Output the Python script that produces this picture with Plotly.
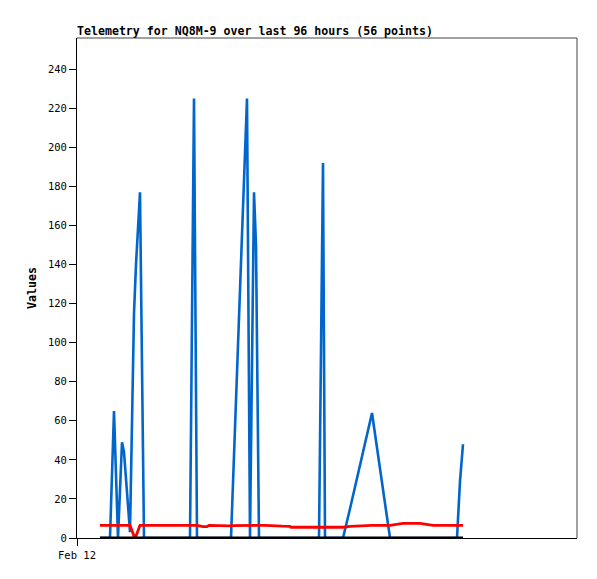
import pandas as pd
import plotly.graph_objects as go

# hours after Feb 12 00:00 for each of the 56 samples
hours = [5.75, 7.25, 8.25, 9.25, 10.25, 11.25, 11.75, 13.25, 14.25, 14.75,
         15.75, 16.75, 18.25, 20.75, 24.5, 26.5, 28.25, 29.25, 30.0, 31.5,
         32.5, 33.0, 35.75, 38.25, 38.5, 41.0, 42.0, 42.5, 43.25, 44.25,
         44.75, 45.5, 47.0, 49.0, 51.25, 53.25, 53.5, 57.0, 60.5, 61.5,
         62.0, 64.0, 66.5, 68.25, 72.0, 73.75, 78.25, 80.0, 81.5, 83.25,
         85.75, 89.0, 92.0, 95.0, 95.75, 96.5]

series_blue = [0, 0, 0, 65, 0, 49, 44, 3, 115, 140,
               177, 0, 0, 0, 0, 0, 0, 225, 0, 0,
               0, 0, 0, 0, 0, 141, 197, 225, 0, 177,
               150, 0, 0, 0, 0, 0, 0, 0, 0, 192,
               0, 0, 0, 15, 49, 64, 0, 0, 0, 0,
               0, 0, 0, 0, 29, 48]

series_red = [6.5, 6.5, 6.5, 6.5, 6.5, 6.5, 6.5, 6.5, 1, 1,
              6.5, 6.5, 6.5, 6.5, 6.5, 6.5, 6.5, 6.5, 6.5, 5.8,
              5.8, 6.5, 6.2, 6.2, 6.3, 6.5, 6.5, 6.5, 6.5, 6.5,
              6.5, 6.5, 6.5, 6.2, 6.1, 6.0, 5.5, 5.5, 5.5, 5.5,
              5.5, 5.5, 5.5, 6.0, 6.5, 6.5, 6.5, 7.0, 7.5, 7.5,
              7.5, 6.5, 6.5, 6.5, 6.5, 6.5]

series_black = [0] * 56

title_text = "Telemetry for NQ8M-9 over last 96 hours (56 points)"
y_title = "Values"
x_tick_label = "Feb 12"

origin = pd.Timestamp("2024-02-12 00:00")
times = [origin + pd.Timedelta(hours=h) for h in hours]
x_end = origin + pd.Timedelta(hours=125)

font_family = "DejaVu Sans Mono, Liberation Mono, monospace"

fig = go.Figure()
fig.add_trace(go.Scatter(x=times, y=series_blue, mode="lines",
                         line=dict(color="#0066CC", width=2.6), showlegend=False))
fig.add_trace(go.Scatter(x=times, y=series_red, mode="lines",
                         line=dict(color="#FF0000", width=2.8), showlegend=False))
fig.add_trace(go.Scatter(x=times, y=series_black, mode="lines",
                         line=dict(color="#000000", width=2.8), showlegend=False))

fig.update_layout(
    width=597, height=579, autosize=False,
    margin=dict(l=77, r=20, t=38, b=41),
    paper_bgcolor="white", plot_bgcolor="white",
    font=dict(family=font_family, size=10, color="black"),
    title=dict(text="<b>" + title_text + "</b>", xref="paper", x=0, xanchor="left",
               yref="container", y=1 - 31 / 579, yanchor="middle",
               font=dict(family=font_family, size=11.6, color="black")),
    xaxis=dict(type="date", range=[origin, x_end], tickvals=[origin],
               ticktext=[x_tick_label], showgrid=False, zeroline=False,
               showline=True, linecolor="black", linewidth=1, automargin=False,
               ticks="outside", ticklen=7, tickcolor="black",
               tickfont=dict(family=font_family, size=10.5)),
    yaxis=dict(range=[0, 256], dtick=20, tick0=0, showgrid=False, zeroline=False,
               showline=True, linecolor="black", linewidth=1, automargin=False,
               ticks="outside", ticklen=7, tickcolor="black",
               tickfont=dict(family=font_family, size=10.5),
               title=dict(text="<b>" + y_title + "</b>", standoff=8,
                          font=dict(family=font_family, size=11.6))),
    shapes=[
        dict(type="line", xref="paper", yref="paper", x0=0, x1=1, y0=1, y1=1,
             line=dict(color="#444444", width=1)),
        dict(type="line", xref="paper", yref="paper", x0=1, x1=1, y0=0, y1=1,
             line=dict(color="#444444", width=1)),
    ],
)

fig.write_html("out.html", config={"displayModeBar": False},
               post_script="document.body.style.margin='0';document.body.style.padding='0';")
